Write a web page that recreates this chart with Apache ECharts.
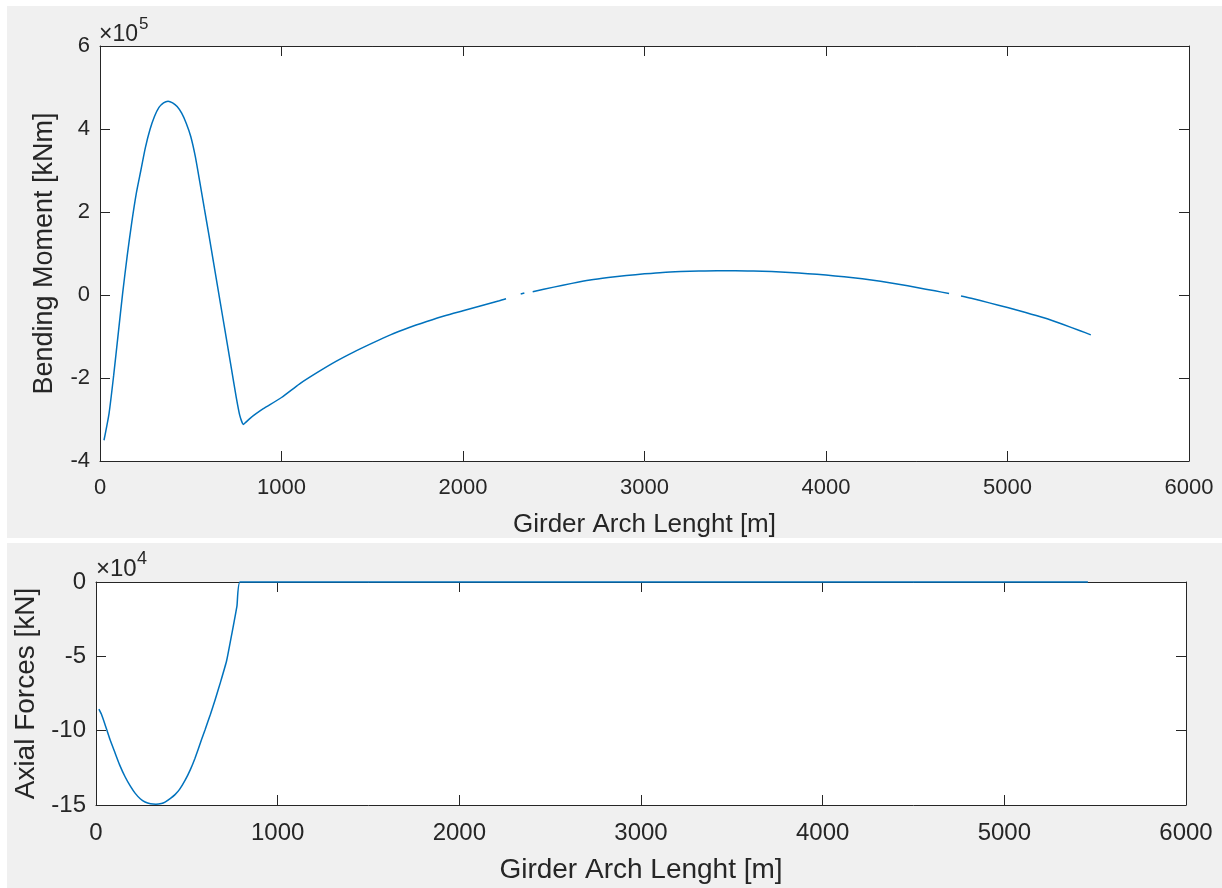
<!DOCTYPE html>
<html>
<head>
<meta charset="utf-8">
<script src="https://cdn.jsdelivr.net/npm/echarts@6/dist/echarts.min.js"></script>
<style>
html,body{margin:0;padding:0;background:#ffffff;}
#wrap{position:relative;width:1222px;height:888px;overflow:hidden;}
.panel{position:absolute;background:#f0f0f0;}
#c{position:absolute;left:0;top:0;width:1222px;height:888px;}
</style>
</head>
<body>
<div id="wrap">
  <div class="panel" style="left:7px;top:6px;width:1215px;height:532px;"></div>
  <div class="panel" style="left:7px;top:543px;width:1215px;height:345px;"></div>
  <div id="c"></div>
</div>
<script>
// ---------------- DATA ----------------
// Girder arch length [m] for the bending moment curve
const momentX = [22, 50, 75, 100, 125, 150, 175, 200, 225, 250, 275, 300, 325, 350, 375, 400, 425, 450, 475, 500,
  525, 550, 575, 600, 625, 650, 675, 700, 725, 750, 770, 790, 800, 830, 860, 900, 1000, 1100, 1200, 1300, 1400,
  1500, 1600, 1700, 1800, 1900, 2000, 2100, 2200, 2237, 2280, 2318, 2338, 2360, 2384, 2500, 2600, 2700, 2800, 2900,
  3000, 3100, 3200, 3300, 3400, 3500, 3600, 3700, 3800, 3900, 4000, 4100, 4200, 4300, 4400, 4500, 4600, 4678,
  4710, 4744, 4800, 4900, 5000, 5100, 5200, 5300, 5400, 5459];
// Bending moment [kNm]  (null = gap in the plotted line)
const momentY = [-350000, -285000, -195000, -95000, 5000, 95000, 175000, 245000, 300000, 355000, 398000, 430000,
  452000, 463000, 467000, 463000, 454000, 438000, 414000, 382000, 334000, 272000, 208000, 145000, 80000, 15000,
  -50000, -115000, -180000, -245000, -290000, -312000, -308000, -296000, -286000, -274000, -247000, -214000,
  -186000, -160000, -137000, -116000, -96000, -79000, -64000, -50000, -38000, -26000, -14000, -9000, null,
  2500, 5000, null, 8000, 19000, 28000, 36000, 42000, 47000, 51000, 54500, 56500, 57800, 58500, 58500, 57800,
  56500, 54500, 51500, 48000, 44000, 39000, 33000, 26000, 18000, 10000, 3500, null, -2500, -8000, -19000,
  -30000, -42000, -55000, -70000, -86000, -96000];

// Girder arch length [m] for the axial force curve
const axialX = [16, 30, 50, 77, 105, 130, 160, 190, 215, 245, 270, 300, 330, 360, 380, 410, 435, 460, 490, 520,
  545, 581, 600, 630, 655, 685, 719, 749, 776, 793, 1000, 1500, 2000, 2500, 3000, 3500, 4000, 4500, 5000, 5460];
// Axial forces [kN]
const axialY = [-85500, -89000, -96000, -106000, -115000, -123000, -131000, -137500, -142000, -146000, -148000,
  -149200, -149500, -149000, -148000, -145500, -143000, -139500, -133500, -126000, -118500, -106000, -99500,
  -89000, -79500, -67500, -53000, -34000, -16000, 0, 0, 0, 0, 0, 0, 0, 0, 0, 0, 0];

const xTickValues = [0, 1000, 2000, 3000, 4000, 5000, 6000];
const momentTicks = [-400000, -200000, 0, 200000, 400000, 600000];
const axialTicks = [-150000, -100000, -50000, 0];
const momentExponent = 5;
const axialExponent = 4;

// ---------------- STYLE ----------------
const FONT = '"Liberation Sans", Arial, Helvetica, sans-serif';
const AX = '#262626';
const LINE = '#0072BD';

function pairs(xs, ys) {
  return xs.map((x, i) => [x, ys[i] === null ? '-' : ys[i]]);
}

function xAxisDef(grid, pos, labels, fs, name, nfs) {
  return {
    type: 'value', gridIndex: grid, position: pos,
    min: xTickValues[0], max: xTickValues[xTickValues.length - 1], interval: 1000,
    axisLine: { show: true, onZero: false, lineStyle: { color: AX, width: 1 } },
    axisTick: { show: true, inside: true, length: 10, lineStyle: { color: AX, width: 1 } },
    splitLine: { show: false },
    axisLabel: labels ? { show: true, margin: 16, color: AX, fontSize: fs, fontFamily: FONT,
      showMinLabel: true, showMaxLabel: true, hideOverlap: false,
      formatter: v => String(v) } : { show: false },
    name: name || '', nameLocation: 'middle', nameGap: 51,
    nameTextStyle: { color: AX, fontSize: nfs, fontFamily: FONT }
  };
}

function yAxisDef(grid, pos, ticks, exp, labels, fs, name, nfs, gap) {
  const step = ticks[1] - ticks[0];
  return {
    type: 'value', gridIndex: grid, position: pos,
    min: ticks[0], max: ticks[ticks.length - 1], interval: step,
    axisLine: { show: true, onZero: false, lineStyle: { color: AX, width: 1 } },
    axisTick: { show: true, inside: true, length: 10, lineStyle: { color: AX, width: 1 } },
    splitLine: { show: false },
    axisLabel: labels ? { show: true, margin: 10, color: AX, fontSize: fs, fontFamily: FONT,
      showMinLabel: true, showMaxLabel: true, hideOverlap: false,
      formatter: v => String(Math.round(v / Math.pow(10, exp))) } : { show: false },
    name: name || '', nameLocation: 'middle', nameGap: gap || 40, nameRotate: 90,
    nameTextStyle: { color: AX, fontSize: nfs, fontFamily: FONT }
  };
}

const chart = echarts.init(document.getElementById('c'), null, { renderer: 'canvas' });
chart.setOption({
  animation: false,
  backgroundColor: 'transparent',
  grid: [
    { left: 100, top: 46, width: 1089, height: 415, show: true, backgroundColor: '#ffffff', borderWidth: 0 },
    { left: 96, top: 582, width: 1090, height: 223, show: true, backgroundColor: '#ffffff', borderWidth: 0 }
  ],
  xAxis: [
    xAxisDef(0, 'bottom', true, 22, 'Girder Arch Lenght [m]', 26),
    xAxisDef(0, 'top', false),
    xAxisDef(1, 'bottom', true, 24, 'Girder Arch Lenght [m]', 28),
    xAxisDef(1, 'top', false)
  ],
  yAxis: [
    yAxisDef(0, 'left', momentTicks, momentExponent, true, 22, 'Bending Moment [kNm]', 27, 42),
    yAxisDef(0, 'right', momentTicks, momentExponent, false),
    yAxisDef(1, 'left', axialTicks, axialExponent, true, 24, 'Axial Forces [kN]', 28, 56),
    yAxisDef(1, 'right', axialTicks, axialExponent, false)
  ],
  graphic: [
    { type: 'text', left: 99, top: 23, style: { text: '×10', font: '23px ' + FONT, fill: AX } },
    { type: 'text', left: 139, top: 16, style: { text: String(momentExponent), font: '17px ' + FONT, fill: AX } },
    { type: 'text', left: 96, top: 557, style: { text: '×10', font: '24px ' + FONT, fill: AX } },
    { type: 'text', left: 137, top: 550, style: { text: String(axialExponent), font: '18px ' + FONT, fill: AX } }
  ],
  series: [
    { type: 'line', name: 'Bending Moment', xAxisIndex: 0, yAxisIndex: 0, data: pairs(momentX, momentY),
      showSymbol: false, smooth: 0.2, connectNulls: false, lineStyle: { color: LINE, width: 1.5 },
      itemStyle: { color: LINE } },
    { type: 'line', name: 'Axial Forces', xAxisIndex: 2, yAxisIndex: 2, data: pairs(axialX, axialY),
      showSymbol: false, smooth: 0.15, clip: false, lineStyle: { color: LINE, width: 1.5 },
      itemStyle: { color: LINE } }
  ]
});
</script>
</body>
</html>
